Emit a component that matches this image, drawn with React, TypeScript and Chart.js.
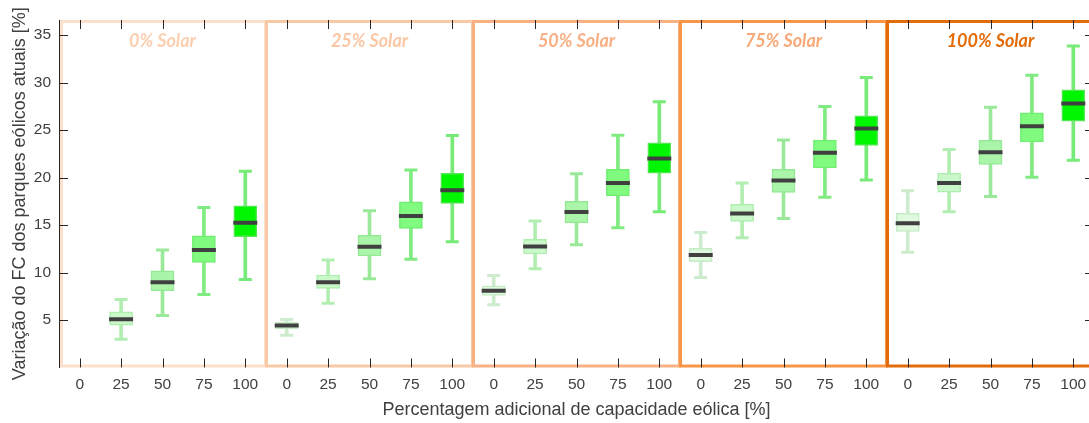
import React, { useEffect, useRef } from "react";
import { Chart, registerables } from "chart.js";

Chart.register(...registerables);

// ---- data ----
const windLabels = ["0", "25", "50", "75", "100"];
const solarGroups = ["0% Solar", "25% Solar", "50% Solar", "75% Solar", "100% Solar"];
const yTickValues = [5, 10, 15, 20, 25, 30, 35];

// 25 boxes: 5 solar groups x 5 wind levels (0, 25, 50, 75, 100)
const lowWhisker = [
  null, 2.97, 5.49, 7.69, 9.28,
  3.4, 6.76, 9.35, 11.39, 13.24,
  6.61, 10.4, 12.93, 14.72, 16.4,
  9.49, 13.66, 15.7, 17.92, 19.74,
  12.13, 16.4, 18.0, 20.05, 21.84,
];
const q1 = [
  null, 4.47, 8.09, 11.07, 13.77,
  4.1, 8.33, 11.74, 14.65, 17.28,
  7.6, 11.95, 15.24, 18.08, 20.47,
  11.14, 15.39, 18.44, 21.03, 23.39,
  14.34, 18.47, 21.39, 23.77, 25.95,
];
const median = [
  null, 5.07, 8.97, 12.37, 15.24,
  4.42, 8.97, 12.72, 15.95, 18.68,
  8.09, 12.75, 16.37, 19.42, 22.02,
  11.84, 16.23, 19.7, 22.61, 25.18,
  15.18, 19.42, 22.68, 25.42, 27.81,
];
const q3 = [
  null, 5.87, 10.19, 13.87, 17.03,
  4.75, 9.74, 13.91, 17.45, 20.44,
  8.61, 13.49, 17.49, 20.86, 23.66,
  12.55, 17.18, 20.86, 23.95, 26.51,
  16.23, 20.44, 23.92, 26.82, 29.24,
];
const highWhisker = [
  null, 7.17, 12.37, 16.86, 20.68,
  5.05, 11.32, 16.51, 20.79, 24.44,
  9.7, 15.42, 20.4, 24.47, 27.98,
  14.23, 19.42, 23.95, 27.5, 30.55,
  18.61, 22.97, 27.42, 30.79, 33.87,
];

// ---- styles ----
const boxFill = ["#dff9df", "#cbf8cb", "#aaf5aa", "#80fb80", "#00f500"];
const boxBorder = ["#c5ecc5", "#aeeeae", "#94ea94", "#6fee6f", "#55e655"];
const whiskerColor = ["#cdeccd", "#b2eeb2", "#9ae99a", "#80eb80", "#77ea77"];
const frameColors = ["#fde0cc", "#f9c9a6", "#f8b183", "#f79646", "#e36c0a"];
const titleColors = ["#fbcfb0", "#fac7a4", "#f8b084", "#f9a877", "#e36c0a"];

const labels = solarGroups.flatMap(() => windLabels);
const perIndex = (arr: string[]) => labels.map((_, i) => arr[i % 5]);
const axisFont = "'Liberation Sans', Arial, sans-serif";

const decorPlugin = {
  id: "decor",
  beforeDatasetsDraw(chart: any) {
    const { ctx, chartArea, scales } = chart;
    const x = scales.x;
    ctx.save();
    ctx.lineWidth = 3;
    solarGroups.forEach((_, g) => {
      let x0 = x.getPixelForValue(g * 5 - 0.5) + 0.5;
      const x1 = x.getPixelForValue(g * 5 + 4.5) - 0.5;
      if (g === 0) x0 += 2;
      ctx.strokeStyle = frameColors[g];
      ctx.strokeRect(x0, chartArea.top + 1.5, x1 - x0, chartArea.bottom - chartArea.top - 3);
    });
    ctx.restore();
  },
  afterDraw(chart: any) {
    const { ctx, chartArea, scales } = chart;
    const x = scales.x;
    const y = scales.y;
    ctx.save();
    // group titles
    ctx.font = "italic bold 18px Lato, 'Open Sans', sans-serif";
    ctx.textAlign = "center";
    ctx.textBaseline = "middle";
    solarGroups.forEach((t, g) => {
      ctx.fillStyle = titleColors[g];
      ctx.fillText(t, x.getPixelForValue(g * 5 + 2), chartArea.top + 21);
    });
    // tick marks (inward)
    ctx.strokeStyle = "#262626";
    ctx.lineWidth = 1;
    ctx.beginPath();
    const tl = 9;
    labels.forEach((_, i) => {
      const px = Math.round(x.getPixelForValue(i)) + 0.5;
      ctx.moveTo(px, chartArea.top);
      ctx.lineTo(px, chartArea.top + tl);
      ctx.moveTo(px, chartArea.bottom);
      ctx.lineTo(px, chartArea.bottom - tl);
    });
    yTickValues.forEach((v) => {
      const py = Math.round(y.getPixelForValue(v)) + 0.5;
      ctx.moveTo(chartArea.left, py);
      ctx.lineTo(chartArea.left + tl, py);
      ctx.moveTo(chartArea.right, py);
      ctx.lineTo(chartArea.right - tl, py);
    });
    ctx.stroke();
    ctx.restore();
  },
};

export default function App() {
  const ref = useRef<HTMLCanvasElement | null>(null);

  useEffect(() => {
    if (!ref.current) return;
    const pair = (a: (number | null)[], b: (number | null)[]) =>
      a.map((v, i) => (v === null || b[i] === null ? null : [v, b[i]]));

    const chart = new Chart(ref.current, {
      type: "bar",
      data: {
        labels,
        datasets: [
          {
            type: "line",
            data: median as any,
            showLine: false,
            pointStyle: "line",
            pointRadius: 12,
            pointHoverRadius: 12,
            pointBorderWidth: 4,
            pointBorderColor: "#404040",
            pointBackgroundColor: "#404040",
            order: 0,
          } as any,
          {
            type: "bar",
            data: pair(q1, q3) as any,
            backgroundColor: perIndex(boxFill),
            borderColor: perIndex(boxBorder),
            borderWidth: 1.5,
            borderSkipped: false,
            barThickness: 23,
            grouped: false,
            order: 1,
          } as any,
          {
            type: "line",
            data: highWhisker as any,
            showLine: false,
            pointStyle: "line",
            pointRadius: 6.5,
            pointBorderWidth: 3,
            pointBorderColor: perIndex(whiskerColor),
            order: 2,
          } as any,
          {
            type: "line",
            data: lowWhisker as any,
            showLine: false,
            pointStyle: "line",
            pointRadius: 6.5,
            pointBorderWidth: 3,
            pointBorderColor: perIndex(whiskerColor),
            order: 2,
          } as any,
          {
            type: "bar",
            data: pair(lowWhisker, highWhisker) as any,
            backgroundColor: perIndex(whiskerColor),
            borderWidth: 0,
            barThickness: 3,
            grouped: false,
            order: 3,
          } as any,
        ],
      },
      options: {
        responsive: false,
        animation: false,
        events: [],
        layout: { padding: { top: 20, right: 11, left: 0, bottom: 0 } },
        plugins: { legend: { display: false }, tooltip: { enabled: false } },
        scales: {
          x: {
            type: "category",
            offset: true,
            grid: { display: false, drawTicks: false },
            border: { display: false },
            ticks: {
              autoSkip: false,
              maxRotation: 0,
              padding: 8,
              color: "#404040",
              font: { family: axisFont, size: 15.5 },
            },
            title: {
              display: true,
              text: "Percentagem adicional de capacidade eólica [%]",
              color: "#404040",
              font: { family: axisFont, size: 18 },
              padding: { top: 0, bottom: 2 },
            },
            afterFit: (s: any) => {
              s.height = 55.5;
            },
          },
          y: {
            type: "linear",
            min: 0,
            max: 36.6,
            grid: { display: false, drawTicks: false },
            border: { display: true, color: "#262626", width: 1 },
            afterBuildTicks: (s: any) => {
              s.ticks = yTickValues.map((v) => ({ value: v }));
            },
            ticks: {
              padding: 8,
              color: "#404040",
              font: { family: axisFont, size: 15.5 },
            },
            title: {
              display: true,
              text: "Variação do FC dos parques eólicos atuais [%]",
              color: "#404040",
              font: { family: axisFont, size: 18 },
              padding: { top: 9, bottom: 0 },
            },
            afterFit: (s: any) => {
              s.width = 59;
            },
          },
        },
      },
      plugins: [decorPlugin],
    });
    return () => chart.destroy();
  }, []);

  return (
    <div
      style={{
        position: "fixed",
        left: 0,
        top: 0,
        width: "100vw",
        height: "100vh",
        overflow: "hidden",
        background: "#fff",
      }}
    >
      <canvas ref={ref} width={1110} height={423} style={{ display: "block" }} />
    </div>
  );
}
